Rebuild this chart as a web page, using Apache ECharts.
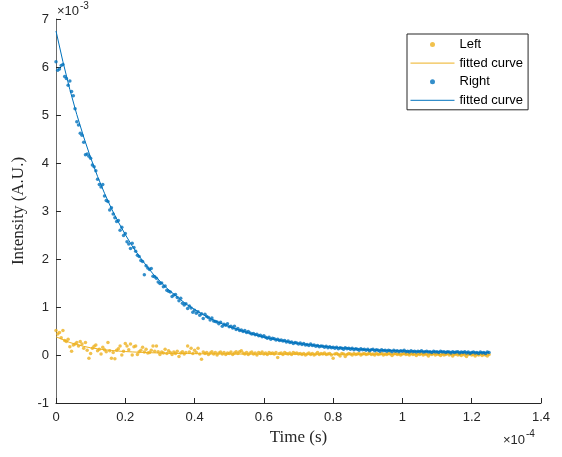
<!DOCTYPE html>
<html><head><meta charset="utf-8">
<script src="https://cdn.jsdelivr.net/npm/echarts@6/dist/echarts.min.js"></script>
<style>html,body{margin:0;padding:0;background:#fff}#chart{width:562px;height:457px}</style>
</head><body><div id="chart"></div>
<script>
// Time axis in units of 1e-4 s, intensity in units of 1e-3 A.U.
const timeStep = 0.005; // sampling step of the measured data (x 1e-4 s)

const leftValues = [
  0.51,0.44,0.47,0.36,0.51,0.30,0.28,0.33,0.17,0.08,
  0.21,0.23,0.26,0.19,0.28,0.23,0.14,0.26,0.10,-0.07,
  0.03,0.14,0.18,0.21,0.09,0.12,0.02,0.16,0.11,0.07,
  0.26,0.09,-0.07,0.05,-0.08,0.10,0.13,0.19,0.00,0.08,
  0.24,0.19,0.11,0.23,0.00,0.17,0.19,0.01,0.07,0.10,
  0.16,0.06,0.12,0.04,0.05,0.10,0.19,0.08,0.19,0.07,
  0.01,0.06,0.04,0.12,0.03,0.09,0.05,0.01,0.06,0.03,
  0.08,-0.03,0.04,0.07,0.02,0.05,0.19,0.06,0.14,0.03,
  0.10,0.05,0.14,0.02,-0.09,0.06,0.03,0.05,0.01,0.04,
  0.07,0.02,0.05,0.00,0.04,0.06,0.02,0.05,0.01,0.04,
  0.03,0.06,0.01,0.04,0.07,0.03,0.07,0.09,0.04,0.02,
  0.05,0.01,0.04,0.06,0.02,0.04,0.00,0.05,0.03,0.06,
  0.02,0.04,0.01,0.05,0.03,0.04,0.02,0.05,-0.05,0.03,
  0.04,0.01,0.05,0.03,0.02,0.04,0.01,0.05,0.03,0.04,
  0.02,0.03,0.01,0.03,0.00,0.02,0.04,0.01,0.03,0.00,
  0.02,0.05,0.01,0.03,0.02,0.04,0.01,0.02,0.03,0.00,
  -0.07,0.02,0.03,0.01,-0.02,0.03,0.02,-0.03,0.01,0.03,
  0.02,0.00,0.03,0.01,0.02,0.03,0.00,0.02,0.03,0.01,
  0.02,0.04,0.01,0.02,0.00,0.03,0.01,0.02,0.03,0.00,
  0.02,0.01,0.03,0.02,-0.01,0.02,0.03,0.01,0.02,0.00,
  0.02,0.03,0.01,0.02,0.00,0.03,0.01,0.02,-0.01,0.02,
  0.01,0.03,0.00,0.02,0.01,-0.02,0.02,0.01,0.03,0.00,
  0.02,0.01,-0.01,0.02,0.00,0.01,0.03,0.00,0.02,-0.02,
  0.01,0.02,0.00,0.01,-0.01,0.02,0.00,-0.03,0.01,0.02,
  0.00,0.01,-0.02,0.01,0.00,0.02,-0.01,0.01,0.00,-0.02,
  0.01
];

const rightValues = [
  6.11,5.93,5.96,6.03,6.05,5.80,5.76,5.62,5.71,5.49,
  5.40,5.13,4.86,4.79,4.62,4.58,4.43,4.17,4.19,4.14,
  4.10,3.96,3.92,3.84,3.66,3.55,3.50,3.55,3.31,3.22,
  3.20,3.02,3.07,2.94,2.86,2.78,2.80,2.60,2.66,2.49,
  2.53,2.36,2.31,2.22,2.33,2.24,2.16,2.08,2.05,1.97,
  1.95,1.67,1.86,1.81,1.78,1.80,1.64,1.63,1.60,1.52,
  1.49,1.50,1.42,1.44,1.35,1.33,1.31,1.22,1.25,1.26,
  1.20,1.13,1.18,1.08,1.04,1.07,0.97,1.02,0.98,0.89,
  0.93,0.87,0.90,0.83,0.86,0.76,0.85,0.80,0.78,0.73,
  0.77,0.71,0.70,0.69,0.65,0.68,0.60,0.64,0.62,0.65,
  0.59,0.60,0.56,0.60,0.53,0.55,0.51,0.52,0.49,0.51,
  0.47,0.49,0.46,0.44,0.45,0.42,0.43,0.40,0.41,0.38,
  0.40,0.37,0.35,0.37,0.33,0.35,0.34,0.31,0.33,0.30,
  0.31,0.29,0.30,0.27,0.29,0.26,0.27,0.24,0.26,0.25,
  0.23,0.25,0.22,0.24,0.21,0.22,0.20,0.23,0.20,0.21,
  0.18,0.20,0.17,0.19,0.18,0.16,0.18,0.15,0.17,0.15,
  0.16,0.14,0.16,0.13,0.15,0.14,0.12,0.15,0.13,0.14,
  0.12,0.14,0.11,0.13,0.12,0.10,0.13,0.11,0.12,0.10,
  0.12,0.09,0.11,0.12,0.09,0.11,0.10,0.08,0.11,0.09,
  0.10,0.08,0.10,0.09,0.07,0.10,0.08,0.09,0.07,0.09,
  0.08,0.10,0.07,0.08,0.06,0.09,0.07,0.08,0.06,0.08,
  0.07,0.09,0.06,0.07,0.08,0.06,0.07,0.05,0.08,0.06,
  0.07,0.05,0.08,0.06,0.07,0.05,0.07,0.06,0.04,0.07,
  0.05,0.06,0.07,0.04,0.06,0.05,0.07,0.04,0.06,0.03,
  0.05,0.06,0.04,0.05,0.03,0.06,0.04,0.05,0.03,0.06,
  0.05
];

// fitted curves
const fitTimes = [0,0.02,0.04,0.06,0.08,0.10,0.12,0.14,0.16,0.18,0.20,0.22,0.24,0.26,0.28,0.30,0.32,0.34,0.36,0.38,0.40,0.42,0.44,0.46,0.48,0.50,0.55,0.60,0.65,0.70,0.75,0.80,0.85,0.90,0.95,1.00,1.05,1.10,1.15,1.20,1.25];
const rightFit = [6.75,6.11,5.53,5.01,4.54,4.11,3.72,3.37,3.05,2.77,2.51,2.27,2.06,1.87,1.69,1.54,1.39,1.27,1.15,1.04,0.95,0.86,0.78,0.71,0.65,0.59,0.47,0.37,0.30,0.24,0.20,0.16,0.14,0.11,0.10,0.085,0.075,0.067,0.061,0.057,0.053];
const leftFit  = [0.38,0.32,0.26,0.22,0.18,0.15,0.13,0.11,0.095,0.082,0.072,0.064,0.057,0.051,0.046,0.042,0.038,0.035,0.032,0.030,0.028,0.026,0.024,0.023,0.022,0.021,0.019,0.018,0.017,0.016,0.016,0.015,0.015,0.015,0.015,0.015,0.015,0.015,0.015,0.015,0.015];

const xTicks = {min:0, max:1.4, interval:0.2};
const yTicks = {min:-1, max:7, interval:1};

const blue = '#0072BD', orange = '#EDB120', AX = '#262626';
const sans = 'Liberation Sans, Arial, Helvetica, sans-serif';
const serif = 'Liberation Serif, Times New Roman, serif';

const times = rightValues.map((_, i) => +(i * timeStep).toFixed(4));
const leftData = leftValues.map((v, i) => [times[i], v]);
const rightData = rightValues.map((v, i) => [times[i], v]);
const leftFitData = leftFit.map((v, i) => [fitTimes[i], v]);
const rightFitData = rightFit.map((v, i) => [fitTimes[i], v]);

const chart = echarts.init(document.getElementById('chart'), null, {renderer:'canvas'});
chart.setOption({
  animation:false,
  backgroundColor:'#fff',
  grid:{left:56, right:21, top:19, bottom:54, containLabel:false},
  xAxis:{type:'value', min:xTicks.min, max:xTicks.max, interval:xTicks.interval,
    name:'Time (s)', nameLocation:'middle', nameGap:24,
    nameTextStyle:{fontFamily:serif, fontSize:17, color:AX},
    axisLine:{show:true, onZero:false, lineStyle:{color:AX, width:1}},
    axisTick:{show:true, inside:true, length:5, lineStyle:{color:AX, width:1}},
    axisLabel:{color:AX, fontSize:13, fontFamily:sans, margin:8},
    splitLine:{show:false}},
  yAxis:{type:'value', min:yTicks.min, max:yTicks.max, interval:yTicks.interval,
    name:'Intensity (A.U.)', nameLocation:'middle', nameGap:26,
    nameTextStyle:{fontFamily:serif, fontSize:17, color:AX},
    axisLine:{show:true, onZero:false, lineStyle:{color:'#6a6a6a', width:1}},
    axisTick:{show:true, inside:true, length:5, lineStyle:{color:AX, width:1}},
    axisLabel:{color:AX, fontSize:13, fontFamily:sans, margin:7},
    splitLine:{show:false}},
  legend:{
    left:407, top:34, orient:'vertical',
    padding:[4,5,3,3], itemGap:5.6, itemWidth:44, itemHeight:5,
    borderColor:AX, borderWidth:1, backgroundColor:'#fff',
    textStyle:{fontFamily:sans, fontSize:13, color:'#000', lineHeight:13},
    formatter: n => n.indexOf('fit') === 0 ? 'fitted curve' : n,
    data:[
      {name:'Left'},
      {name:'fit Left', itemStyle:{opacity:0}, lineStyle:{width:1}},
      {name:'Right'},
      {name:'fit Right', itemStyle:{opacity:0}, lineStyle:{width:1}}
    ]
  },
  graphic:[
    {type:'text', left:57, top:5, style:{text:'×10', font:'13px '+sans, fill:AX}},
    {type:'text', left:80, top:1, style:{text:'-3', font:'10px '+sans, fill:AX}},
    {type:'text', left:503, top:434, style:{text:'×10', font:'13px '+sans, fill:AX}},
    {type:'text', left:526, top:429, style:{text:'-4', font:'10px '+sans, fill:AX}}
  ],
  series:[
    {name:'Left', type:'scatter', data:leftData, symbol:'circle', symbolSize:3.5,
     itemStyle:{color:orange}, z:2},
    {name:'fit Left', type:'line', data:leftFitData, symbol:'none', smooth:false,
     lineStyle:{color:orange, width:1}, itemStyle:{color:orange}, z:3},
    {name:'Right', type:'scatter', data:rightData, symbol:'circle', symbolSize:3.5,
     itemStyle:{color:blue}, z:4},
    {name:'fit Right', type:'line', data:rightFitData, symbol:'none', smooth:false,
     lineStyle:{color:blue, width:1}, itemStyle:{color:blue}, z:5}
  ]
});
</script></body></html>
